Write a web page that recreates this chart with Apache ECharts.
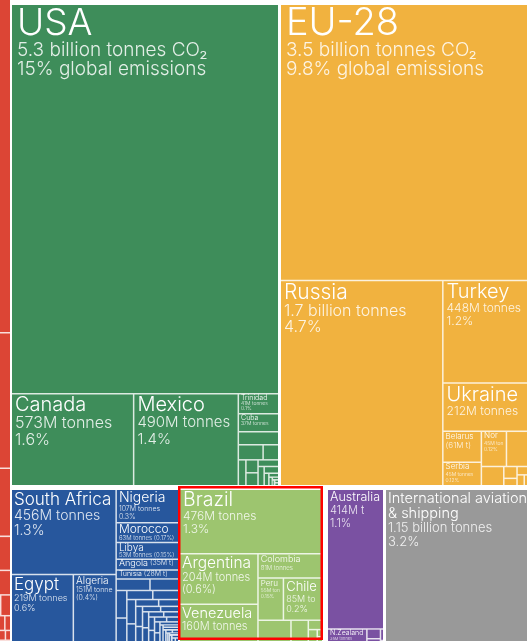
<!DOCTYPE html>
<html><head><meta charset="utf-8">
<script src="https://cdn.jsdelivr.net/npm/echarts@6/dist/echarts.min.js"></script>
<style>html,body{margin:0;padding:0;background:#fff}#c{width:527px;height:641px}</style>
</head><body><div id="c"></div>
<script>
// ---------------- DATA (million tonnes CO2) ----------------
const asiaNames = ['China','India','Japan','Iran','Saudi Arabia','South Korea','Indonesia','Thailand','Kazakhstan','Taiwan','Malaysia','Vietnam','UAE','Pakistan','Iraq','Philippines','Kuwait','Qatar','Uzbekistan','Bangladesh','Turkmenistan','Oman','Israel','Singapore','Hong Kong','Azerbaijan','Bahrain','North Korea','Syria','Mongolia','Myanmar','Jordan','Lebanon','Sri Lanka','Laos','Nepal','Yemen','Afghanistan','Georgia','Cambodia','Kyrgyzstan','Brunei','Armenia','Tajikistan','Palestine','Macao','Maldives','Bhutan'];
const asiaValues = [9839,2467,1205,672,635,616,487,331,293,280,255,218,210,199,190,128,105,103,100,82,76,72,65,53,42,35,32,29,28,25,25,25,25,22,18,13,12,12,10,10,9,7,5,5,3,2,1.5,1];

const naNames = ['USA','Canada','Mexico','Trinidad','Cuba','Dominican Rep.','Guatemala','Panama','Honduras','Jamaica','Costa Rica','El Salvador','Curaçao','Nicaragua','Haiti','Bahamas','Barbados','Aruba','Antigua','Belize','Bermuda'];
const naValues = [5300,573,490,41,37,27,19,12,10,8,8,7,6,5,3,2,1.5,0.9,0.7,0.6,0.6];

const euNames = ['EU-28','Russia','Turkey','Ukraine','Belarus','Serbia','Norway','Switzerland','Bosnia','Macedonia','Moldova','Albania','Iceland','Montenegro'];
const euValues = [3500,1700,448,212,61,46,45,40,22,8,5,5,4,2.5];

const afLeftNames = ['South Africa','Egypt','Algeria'];
const afLeftValues = [456,219,151];
const afRightNames = ['Nigeria','Morocco','Libya','Angola','Tunisia'];
const afRightValues = [107,63,53,35,28];
const afRestNames = ['Sudan','Kenya','Ghana','Ethiopia','Ivory Coast','Tanzania','Zimbabwe','Senegal','Mozambique','Cameroon','Botswana','Benin','Zambia','Uganda','Gabon','Eq. Guinea','Mauritius','Namibia','Madagascar','Congo','DR Congo','Mali','Burkina Faso','Guinea','Mauritania','Togo','Niger','Lesotho','South Sudan','Sierra Leone','Liberia','Rwanda','Malawi','Eritrea','Djibouti','Eswatini','Chad','Gambia'];
const afRestValues = [20,17,15,14,12,12,11,9,8,7,7,6,5,5,5,5,4,4,4,4,3,3,3,3,3,3,2,2,2,1,1,1,1,1,1,1,1,1];

const saTopNames = ['Brazil'];
const saTopValues = [476];
const saLeftNames = ['Argentina','Venezuela'];
const saLeftValues = [204,160];
const saRightNames = ['Colombia','Peru','Chile','Ecuador','Bolivia','Paraguay','Uruguay','Guyana','Suriname'];
const saRightValues = [81,55,85,40,21,7,6.5,2,2];

const ocNames = ['Australia','N.Zealand','Papua New Guinea','New Caledonia','Fiji','French Polynesia'];
const ocValues = [414,35,7,5,2,0.9];

const intlNames = ['International aviation & shipping'];
const intlValues = [1150];

// label texts shown under each name
const labelLines = {
  'USA':['5.3 billion tonnes CO₂','15% global emissions'],
  'EU-28':['3.5 billion tonnes CO₂','9.8% global emissions'],
  'Russia':['1.7 billion tonnes','4.7%'],
  'Turkey':['448M tonnes','1.2%'],
  'Ukraine':['212M tonnes','0.6%'],
  'Serbia':['45M tonnes','0.12%'],
  'Norway':['45M tonnes','0.12%'],
  'Canada':['573M tonnes','1.6%'],
  'Mexico':['490M tonnes','1.4%'],
  'Trinidad':['41M tonnes','0.1%'],
  'Cuba':['37M tonnes','0.1%'],
  'South Africa':['456M tonnes','1.3%'],
  'Nigeria':['107M tonnes','0.3%'],
  'Morocco':['63M tonnes (0.17%)'],
  'Libya':['53M tonnes (0.15%)'],
  'Egypt':['219M tonnes','0.6%'],
  'Algeria':['151M tonnes','(0.4%)'],
  'Brazil':['476M tonnes','1.3%'],
  'Argentina':['204M tonnes','(0.6%)'],
  'Venezuela':['160M tonnes','4.4%'],
  'Colombia':['81M tonnes','0.22%'],
  'Peru':['55M tonnes','0.15%'],
  'Chile':['85M tonnes','0.2%'],
  'Australia':['414M t','1.1%'],
  'N.Zealand':['35M tonnes','0.1%'],
  'International aviation & shipping':['1.15 billion tonnes','3.2%']
};
const inlineInfo = {'Belarus':'(61M t)','Angola':'(35M t)','Tunisia':'(28M t)'};
const displayName = {'International aviation & shipping':'International aviation\n& shipping'};

// ---------------- STYLE ----------------
const FONT = "Inter, Roboto, 'Liberation Sans', Arial, sans-serif";
// [name size, detail size, name line height, detail line height]
const labelFont = {
  'USA':[37,19,35,19],'EU-28':[38,19,35,19],'Russia':[21,16,21,16],'Turkey':[20,12,20,13],'Ukraine':[20,12,20,13],
  'Belarus':[8,8,9,9],'Serbia':[8,5,8,6],'Norway':[8,5,8,6],
  'Canada':[20,16,19,17],'Mexico':[20,15,19,17],'Trinidad':[7,5,7,5],'Cuba':[7,5,7,5],
  'South Africa':[17,14,17,15],'Nigeria':[14,7,14,8],'Morocco':[12,6,11,7],'Libya':[10,6,9,6],
  'Angola':[9,7,7,7],'Tunisia':[7,7,6,6],
  'Egypt':[17,9,17,10],'Algeria':[10,7,11,8],'Brazil':[19.5,12,19,13],'Argentina':[15.5,11,16,12],'Venezuela':[14.5,11,15,12],
  'Colombia':[9,6,10,7],'Peru':[8,5,9,6],'Chile':[13,9,14,10],'Australia':[12.5,11,13,13],'N.Zealand':[7,4,7,5],
  'International aviation & shipping':[14.5,13,15,14]
};
const labelOverflow = {'Belarus':'break'};
const colors = {asia:'#DC4535', na:'#3E8D5A', eu:'#F1B23F', af:'#27579D', sa:'#9DC56F', oc:'#7A51A2', intl:'#999999'};

function tint(hex, a) {
  const n = parseInt(hex.slice(1), 16);
  const m = c => Math.round(c + (255 - c) * a);
  return 'rgb(' + m((n >> 16) & 255) + ',' + m((n >> 8) & 255) + ',' + m(n & 255) + ')';
}

function leaf(name, value) {
  const node = {name: name, value: value};
  const f = labelFont[name];
  if (!f) { node.label = {show: false}; return node; }
  const nm = (displayName[name] || name).split('\n').map(s => '{n|' + s + '}').join('\n');
  let text;
  if (inlineInfo[name]) text = nm + '{d| ' + inlineInfo[name] + '}';
  else text = [nm].concat((labelLines[name] || []).map(s => '{d|' + s + '}')).join('\n');
  const pad = Math.max(2, Math.round(f[0] * 0.14));
  node.label = {
    show: true, formatter: text, padding: [f[0] > 12 ? 1 : 0, 1, 0, pad],
    overflow: labelOverflow[name] || 'truncate',
    rich: {
      n: {fontSize: f[0], lineHeight: f[2], fontFamily: FONT, fontWeight: 300, color: '#fff'},
      d: {fontSize: f[1], lineHeight: f[3], fontFamily: FONT, fontWeight: 300, color: 'rgba(255,255,255,0.85)'}
    }
  };
  return node;
}
function leaves(names, values) { return names.map((n, i) => leaf(n, values[i])); }
function paint(nodes, color) {
  nodes.forEach(nd => {
    nd.itemStyle = Object.assign({}, nd.itemStyle, {color: color});
    if (nd.children) paint(nd.children, color);
  });
  return nodes;
}

function region(name, data, box, color, ratio, sortMode) {
  return {
    type: 'treemap', name: name, data: paint(data, color),
    left: box[0], top: box[1], width: box[2], height: box[3],
    squareRatio: ratio, sort: sortMode,
    roam: false, nodeClick: false, breadcrumb: {show: false},
    animation: false, visibleMin: 1, drillDownIcon: '',
    color: [color],
    itemStyle: {color: color, borderColor: tint(color, 0.82), borderWidth: 0, gapWidth: 1.5},
    label: {show: true, position: 'insideTopLeft', color: '#fff', fontFamily: FONT, fontWeight: 300, overflow: 'truncate', ellipsis: ''},
    upperLabel: {show: false},
    emphasis: {disabled: true}
  };
}

const asiaData = leaves(asiaNames, asiaValues).map(d => (d.label = {show: false}, d));
const naData = leaves(naNames, naValues);
const euData = leaves(euNames, euValues);
const afData = [
  {name: 'Africa A', children: leaves(afLeftNames, afLeftValues)},
  {name: 'Africa B', children: leaves(afRightNames, afRightValues).concat([
    {name: 'Africa other', children: leaves(afRestNames, afRestValues)}
  ])}
];
const saData = leaves(saTopNames, saTopValues).concat([
  {name: 'South America A', children: leaves(saLeftNames, saLeftValues)},
  {name: 'South America B', children: leaves(saRightNames, saRightValues)}
]);
const ocData = leaves(ocNames, ocValues);
const intlData = leaves(intlNames, intlValues);

const chart = echarts.init(document.getElementById('c'), null, {renderer: 'canvas'});
chart.setOption({
  animation: false,
  series: [
    region('Asia', asiaData, [-503, 0, 513, 645], colors.asia, 0.5 * (1 + Math.sqrt(5)), 'desc'),
    region('North America', naData, [12, 5, 266, 480], colors.na, 0.5, 'desc'),
    region('Europe', euData, [281, 5, 247, 480], colors.eu, 1.0, 'desc'),
    region('Africa', afData, [12, 490, 166, 153], colors.af, 0.3, false),
    region('South America', saData, [180, 490, 142, 153], colors.sa, 0.7, false),
    region('Oceania', ocData, [328, 490, 55, 155], colors.oc, 1.618, 'desc'),
    region('International', intlData, [386, 490, 146, 155], colors.intl, 1.618, 'desc')
  ],
  graphic: [{
    type: 'rect', z: 100,
    shape: {x: 179.25, y: 487.25, width: 142.5, height: 151.5},
    style: {fill: 'none', stroke: '#ff0000', lineWidth: 2.5}
  }]
});
</script>
</body></html>
